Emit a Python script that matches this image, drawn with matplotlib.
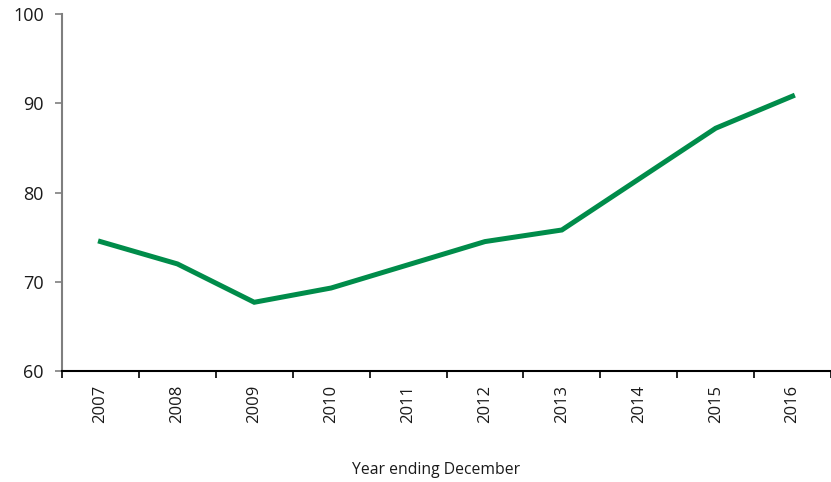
import numpy as np
import matplotlib
matplotlib.use("Agg")
import matplotlib.pyplot as plt

# Values
years = ['2007', '2008', '2009', '2010', '2011', '2012', '2013', '2014', '2015', '2016']
values = [74.5, 72.0, 67.7, 69.3, 71.9, 74.5, 75.8, 81.5, 87.2, 90.8]
y_ticks = [60, 70, 80, 90, 100]

plt.rcParams['font.family'] = ['Open Sans', 'DejaVu Sans']

fig = plt.figure(figsize=(8.31, 4.82), dpi=100)
ax = fig.add_axes([62 / 831, 1 - 371 / 482, 1 - 62 / 831, (371 - 14) / 482])

x = np.arange(len(years))
ax.plot(x, values, color='#008c4a', linewidth=3.6, solid_joinstyle='miter')

ax.set_ylim(60, 100)
ax.set_yticks(y_ticks)
ax.set_xlim(-0.5, len(years) - 0.5)

# labels at centres, tick marks on category boundaries
ax.set_xticks(x)
ax.set_xticklabels(years, rotation=90, fontsize=12, color='#1a1a1a')
ax.tick_params(axis='x', which='major', length=0, pad=10)
ax.set_xticks(np.arange(len(years) + 1) - 0.5, minor=True)
ax.tick_params(axis='x', which='minor', length=5, width=1.2, color='black')

ax.tick_params(axis='y', length=5, width=1.2, color='#7f7f7f', labelsize=13, labelcolor='#1a1a1a', pad=8)

for side in ['top', 'right']:
    ax.spines[side].set_visible(False)
ax.spines['left'].set_color('#7f7f7f')
ax.spines['left'].set_linewidth(1.5)
ax.spines['bottom'].set_color('black')
ax.spines['bottom'].set_linewidth(1.5)

fig.text(436.5 / 831, 1 - 470 / 482, 'Year ending December', ha='center', va='center',
         fontsize=11.3, color='#1a1a1a')

fig.savefig('out.png', dpi=100)
